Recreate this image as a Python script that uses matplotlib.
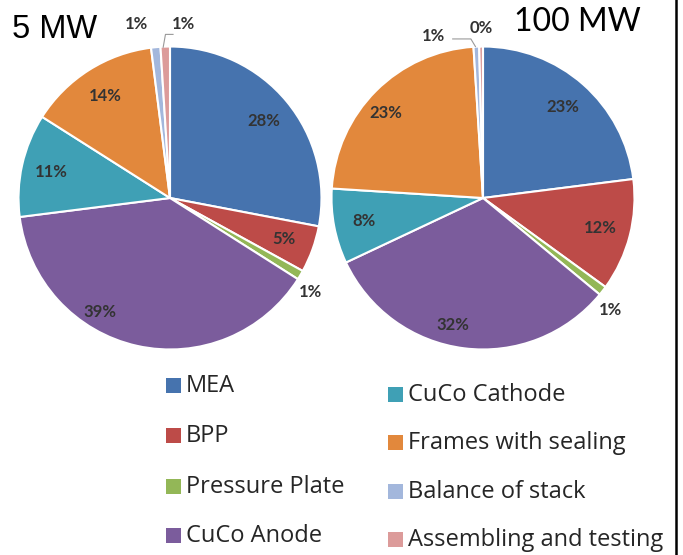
import numpy as np
import matplotlib
matplotlib.use("Agg")
import matplotlib.pyplot as plt
from matplotlib.patches import Rectangle
from matplotlib.lines import Line2D

# component share of stack cost (%)
components = ["MEA", "BPP", "Pressure Plate", "CuCo Anode",
              "CuCo Cathode", "Frames with sealing", "Balance of stack",
              "Assembling and testing"]
share_5mw = [28, 5, 1, 39, 11, 14, 1, 1]
share_100mw = [23, 12, 1, 32, 8, 23, 0.6, 0.4]
titles = ["5 MW", "100 MW"]

colors = ["#4673AE", "#BD4B48", "#93B757", "#7B5C9C", "#3FA0B5",
          "#E2883C", "#A3B7DC", "#DC9B9A"]

# hand-placed labels (index -> x, y), mostly the thin slices outside the pie
label_pos_5mw = {2: (0.93, -0.62), 3: (-0.46, -0.75), 6: (-0.22, 1.15), 7: (0.09, 1.15)}
label_pos_100mw = {2: (0.84, -0.74), 3: (-0.2, -0.84), 5: (-0.64, 0.56),
                   6: (-0.33, 1.07), 7: (-0.01, 1.12)}

plt.rcParams['font.family'] = ['Lato', 'DejaVu Sans']

fig = plt.figure(figsize=(6.83, 5.55), dpi=100)


def draw_pie(rect, values, fixed):
    ax = fig.add_axes(rect)
    wedges, _ = ax.pie(values, colors=colors, startangle=90, counterclock=False,
                       radius=1.0, wedgeprops=dict(edgecolor="white", linewidth=1.5))
    ax.set_xlim(-1.01, 1.01)
    ax.set_ylim(-1.01, 1.01)
    ax.set_aspect("equal")
    ax.axis("off")
    for i, (w, v) in enumerate(zip(wedges, values)):
        txt = "%d%%" % round(v)
        if i in fixed:
            x, y = fixed[i]
        else:
            ang = np.deg2rad((w.theta1 + w.theta2) / 2)
            x, y = 0.8 * np.cos(ang), 0.8 * np.sin(ang)
        ax.text(x, y, txt, ha="center", va="center", fontsize=12,
                fontweight="bold", color="#333333", clip_on=False)
    return ax, wedges


ax1, w1 = draw_pie([17 / 683, 1 - 351 / 555, 306 / 683, 306 / 555], share_5mw, label_pos_5mw)
ax2, w2 = draw_pie([330 / 683, 1 - 351 / 555, 306 / 683, 306 / 555], share_100mw, label_pos_100mw)

# leader lines for the tiny slices at the top
ax1.plot([-0.045, -0.03, 0.02], [0.995, 1.08, 1.08], color="#999999", lw=0.8, clip_on=False)
ax2.plot([-0.2, -0.08, -0.05], [1.05, 1.05, 1.0], color="#999999", lw=0.8, clip_on=False)

# titles
fig.text(12 / 683, 1 - 30 / 555, titles[0], fontsize=23.5, family="Liberation Sans",
         va="center", ha="left", zorder=5,
         bbox=dict(facecolor="white", edgecolor="none", pad=3))
fig.text(641 / 683, 1 - 22 / 555, titles[1], fontsize=23, va="center", ha="right")

# legend, two columns
rows_left = [386, 436, 487, 536]
rows_right = [395, 443, 492, 540]
for i, name in enumerate(components):
    if i < 4:
        xs, y = 166, rows_left[i]
    else:
        xs, y = 388, rows_right[i - 4]
    fig.add_artist(Rectangle((xs / 683, 1 - (y + 7) / 555), 15 / 683, 15 / 555,
                             transform=fig.transFigure, facecolor=colors[i],
                             edgecolor="none"))
    fig.text((xs + 20) / 683, 1 - y / 555, name, fontsize=17, family="Open Sans",
             va="center", ha="left", color="#262626")

# right border line
fig.add_artist(Line2D([676 / 683, 676 / 683], [0, 1], color="black", lw=1.8,
                      transform=fig.transFigure))

fig.savefig("out.png", dpi=100)
